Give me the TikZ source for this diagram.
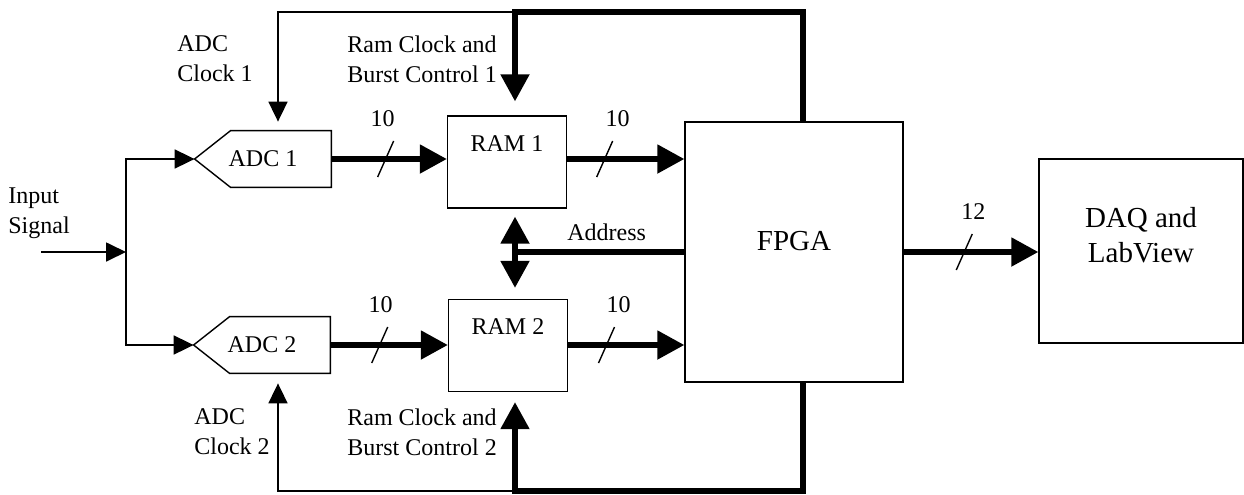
\documentclass[tikz,border=0pt]{standalone}
\usepackage{fontspec}
\setmainfont{Liberation Serif}
\usetikzlibrary{arrows.meta}

\begin{document}
\begin{tikzpicture}[x=0.5pt, y=-0.5pt, every node/.style={font=\fontsize{12}{15}\selectfont}]
\tikzset{box/.style={draw, line width=0.7pt, inner sep=0pt}}
\tikzset{adc/.style={minimum width=68pt, minimum height=28pt, inner sep=0pt}}
\tikzset{ram/.style={box, minimum width=59.5pt, text height=11pt, text depth=22pt, inner ysep=6.5pt}}
\tikzset{lbl/.style={align=left, inner sep=0pt, anchor=north west}}
\tikzset{thinw/.style={line width=0.9pt}}
\tikzset{thickw/.style={line width=2.6pt}}
\tikzset{arr/.style={-{Triangle[length=10pt,width=9.5pt]}}}
\tikzset{bigarr/.style={-{Triangle[length=13.5pt,width=14pt]}}}
\useasboundingbox (0,0) rectangle (1244,494);
\node[adc] (adc1) at (263,159) {ADC 1};
\node[adc] (adc2) at (262,345) {ADC 2};
\node[ram] (ram1) at (507,162) {RAM 1};
\node[ram] (ram2) at (508,345.5) {RAM 2};
\node[box, minimum width=109pt, text height=64pt, text depth=66pt, font=\fontsize{14.5}{17.5}\selectfont] (fpga) at (794,252) {FPGA};
\node[box, minimum width=102pt, text height=51.5pt, text depth=40.5pt, align=center, font=\fontsize{14.5}{17.5}\selectfont] (daq) at (1141,251) {DAQ and\\LabView};
\foreach \a in {adc1,adc2}
  \draw[line width=0.7pt] (\a.west) -- ([xshift=18pt]\a.north west) -- (\a.north east) -- (\a.south east) -- ([xshift=18pt]\a.south west) -- cycle;
\node[lbl] (inlbl) at (8,187) {Input\\Signal};
\node[lbl] (clk1) at (177,35) {ADC\\Clock 1};
\node[lbl] (ctl1) at (347,35) {Ram Clock and\\Burst Control 1};
\node[lbl] (clk2) at (194,408) {ADC\\Clock 2};
\node[lbl] (ctl2) at (347,408) {Ram Clock and\\Burst Control 2};
\node[lbl] (addr) at (567,223) {Address};
\coordinate (in) at (41,252);
\coordinate (split) at (126,252);
\coordinate (c1) at (515,12);
\coordinate (k1) at (278,12);
\coordinate (f1) at (803,12);
\coordinate (c2) at (515,491);
\coordinate (k2) at (278,491);
\coordinate (f2) at (803,491);
\draw[thinw, arr] (in) -- (split);
\draw[thinw, arr] (split) |- (adc1.west);
\draw[thinw, arr] (split) |- (adc2.west);
\draw[thickw, bigarr] (adc1.east) -- coordinate[pos=0.47] (m1) (adc1.east -| ram1.west);
\draw[thickw, bigarr] (adc1.east -| ram1.east) -- coordinate[pos=0.32] (m2) (adc1.east -| fpga.west);
\draw[thickw, bigarr] (adc2.east) -- coordinate[pos=0.42] (m3) (adc2.east -| ram2.west);
\draw[thickw, bigarr] (adc2.east -| ram2.east) -- coordinate[pos=0.33] (m4) (adc2.east -| fpga.west);
\draw[thickw, bigarr] (fpga.east) -- coordinate[pos=0.45] (m5) (fpga.east -| daq.west);
\foreach \m/\dx/\n in {m1/-3/10, m2/13/10, m3/1/10, m4/12/10, m5/9/12} {
  \draw[line width=0.7pt] ([shift={(8,-18)}]\m) -- ([shift={(-8,18)}]\m);
  \node (n\m) at ([shift={(\dx,-40)}]\m) {\n};
}
\draw[thickw, bigarr, shorten >=7pt] (fpga.north -| f1) -- (f1) -- (c1) -- (ram1.north -| c1);
\draw[thinw, arr, shorten >=4.5pt] (c1) -- (k1) -- (adc1.north -| k1);
\draw[thickw, bigarr, shorten >=5pt] (fpga.south -| f2) -- (f2) -- (c2) -- (ram2.south -| c2);
\draw[thinw, arr, shorten >=5pt] (c2) -- (k2) -- (adc2.south -| k2);
\draw[thickw, {Triangle[length=13.5pt,width=14pt]}-{Triangle[length=13.5pt,width=14pt]}, shorten <=4pt, shorten >=5.5pt] (ram1.south -| c1) -- (ram2.north -| c1);
\draw[thickw] (fpga.west) -- (fpga.west -| c1);
\end{tikzpicture}
\end{document}
